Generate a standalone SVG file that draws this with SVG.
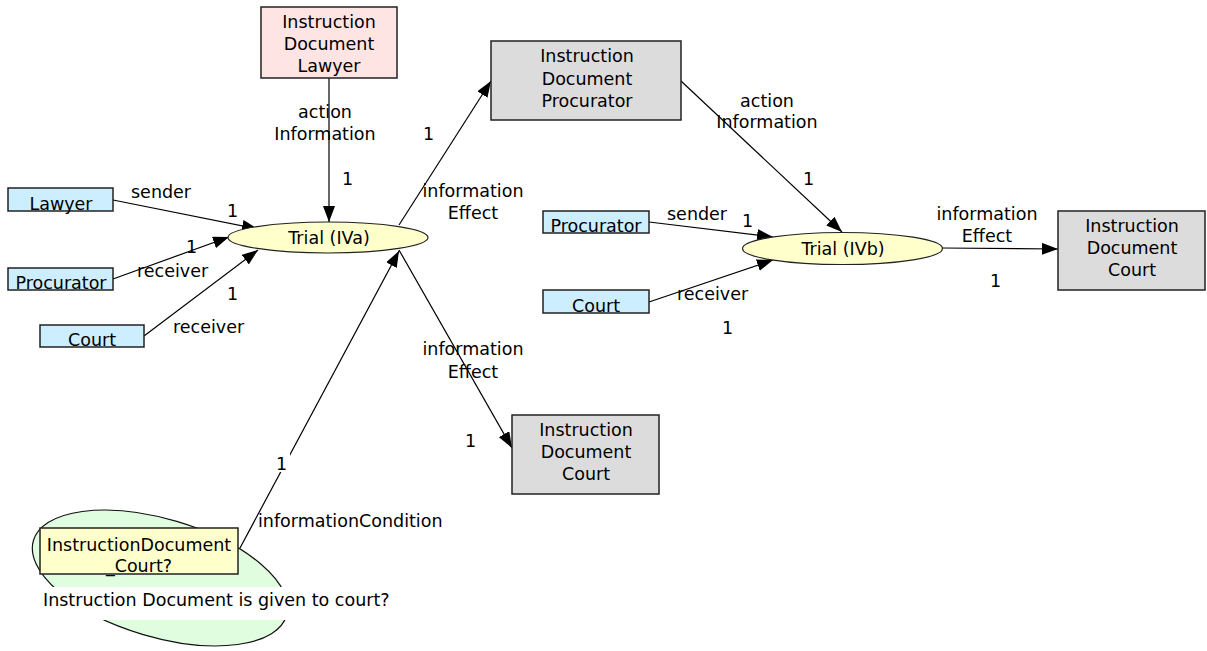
<svg xmlns="http://www.w3.org/2000/svg" width="1207" height="651" viewBox="0 0 1207 651">
  <style>
    text { font-family: "DejaVu Sans", Verdana, sans-serif; font-size: 17.5px; fill: #000; }
    .c { text-anchor: middle; }
    .doc { fill: #dcdcdc; stroke: #222; stroke-width: 1.5; }
    .docp { fill: #ffe4e4; stroke: #222; stroke-width: 1.5; }
    .role { fill: #cdeefe; stroke: #222; stroke-width: 1.5; }
    .act { fill: #ffffcc; stroke: #222; stroke-width: 1.2; }
    .cond { fill: #ffffcc; stroke: #222; stroke-width: 1.5; }
    .cloud { fill: #e0fde0; stroke: #111; stroke-width: 1.2; }
    .edge { stroke: #000; stroke-width: 1.2; fill: none; marker-end: url(#arrow); }
  </style>
  <defs>
    <marker id="arrow" viewBox="0 0 16 12" refX="16" refY="6" markerWidth="16" markerHeight="12" markerUnits="userSpaceOnUse" orient="auto">
      <path d="M0,0 L16,6 L0,12 Z" fill="#000"/>
    </marker>
  </defs>
  <rect width="1207" height="651" fill="#fff"/>

  <!-- condition note (drawn first so everything else sits on top) -->
  <g id="note">
    <ellipse class="cloud" cx="160" cy="578" rx="132" ry="59" transform="rotate(16.5 160 578)"/>
  </g>

  <!-- connectors -->
  <g id="connectors">
    <line class="edge" x1="113" y1="200" x2="258" y2="229"/>
    <line class="edge" x1="113" y1="279" x2="229" y2="237"/>
    <line class="edge" x1="144" y1="336" x2="258" y2="250"/>
    <line class="edge" x1="329" y1="78" x2="329" y2="222"/>
    <line class="edge" x1="399" y1="225" x2="491" y2="81"/>
    <line class="edge" x1="399" y1="250" x2="512" y2="448"/>
    <line class="edge" x1="240" y1="548" x2="399" y2="251"/>
    <line class="edge" x1="681" y1="81" x2="842" y2="232"/>
    <line class="edge" x1="649" y1="222" x2="773" y2="237"/>
    <line class="edge" x1="649" y1="302" x2="773" y2="260"/>
    <line class="edge" x1="942" y1="248" x2="1058" y2="249"/>
  </g>

  <!-- activities -->
  <g id="trial-iva">
    <ellipse class="act" cx="328" cy="237.5" rx="100" ry="15.5"/>
    <text class="c" x="329" y="244">Trial (IVa)</text>
  </g>
  <g id="trial-ivb">
    <ellipse class="act" cx="842.5" cy="248.5" rx="100" ry="16"/>
    <text class="c" x="843" y="255">Trial (IVb)</text>
  </g>

  <!-- documents -->
  <g id="doc-lawyer">
    <rect class="docp" x="261" y="7" width="136" height="71"/>
    <text class="c" x="329" y="28">Instruction</text>
    <text class="c" x="329" y="50">Document</text>
    <text class="c" x="329" y="72">Lawyer</text>
  </g>
  <g id="doc-procurator">
    <rect class="doc" x="491" y="41" width="190" height="79"/>
    <text class="c" x="587" y="62">Instruction</text>
    <text class="c" x="587" y="85">Document</text>
    <text class="c" x="587" y="107">Procurator</text>
  </g>
  <g id="doc-court-a">
    <rect class="doc" x="512" y="415" width="147" height="79"/>
    <text class="c" x="586" y="436">Instruction</text>
    <text class="c" x="586" y="458">Document</text>
    <text class="c" x="586" y="480">Court</text>
  </g>
  <g id="doc-court-b">
    <rect class="doc" x="1058" y="211" width="147" height="79"/>
    <text class="c" x="1132" y="232">Instruction</text>
    <text class="c" x="1132" y="254">Document</text>
    <text class="c" x="1132" y="276">Court</text>
  </g>

  <!-- roles -->
  <g id="role-lawyer">
    <rect class="role" x="8" y="188" width="105" height="23"/>
    <text class="c" x="61" y="210">Lawyer</text>
  </g>
  <g id="role-procurator-a">
    <rect class="role" x="8" y="268" width="105" height="22"/>
    <text class="c" x="61" y="289">Procurator</text>
  </g>
  <g id="role-court-a">
    <rect class="role" x="40" y="325" width="104" height="22"/>
    <text class="c" x="92" y="346">Court</text>
  </g>
  <g id="role-procurator-b">
    <rect class="role" x="543" y="211" width="106" height="22"/>
    <text class="c" x="596" y="232">Procurator</text>
  </g>
  <g id="role-court-b">
    <rect class="role" x="543" y="290" width="106" height="23"/>
    <text class="c" x="596" y="312">Court</text>
  </g>

  <!-- condition -->
  <g id="condition">
    <rect class="cond" x="40" y="528" width="198" height="46"/>
    <text class="c" x="139" y="551">InstructionDocument</text>
    <text class="c" x="139" y="572">_Court?</text>
  </g>
  <g id="note-label">
    <rect x="36" y="587" width="362" height="33" fill="#fff"/>
    <text x="43" y="606">Instruction Document is given to court?</text>
  </g>

  <!-- connector labels -->
  <g id="labels">
    <text x="131" y="198">sender</text>
    <text x="227" y="217">1</text>
    <text x="186" y="253">1</text>
    <text x="137" y="277">receiver</text>
    <text x="227" y="300">1</text>
    <text x="173" y="333">receiver</text>
    <text class="c" x="325" y="118">action</text>
    <text class="c" x="325" y="140">Information</text>
    <text x="342" y="185">1</text>
    <text x="423" y="140">1</text>
    <text class="c" x="473" y="197">information</text>
    <text class="c" x="473" y="219">Effect</text>
    <text class="c" x="473" y="355">information</text>
    <text class="c" x="473" y="378">Effect</text>
    <text x="465" y="447">1</text>
    <rect x="274" y="452" width="16" height="20" fill="#fff"/>
    <text x="276" y="470">1</text>
    <text x="258" y="527">informationCondition</text>
    <text class="c" x="767" y="107">action</text>
    <text class="c" x="767" y="128">Information</text>
    <text x="803" y="185">1</text>
    <text x="667" y="220">sender</text>
    <text x="742" y="227">1</text>
    <text x="677" y="300">receiver</text>
    <text x="722" y="334">1</text>
    <text class="c" x="987" y="220">information</text>
    <text class="c" x="987" y="242">Effect</text>
    <text x="990" y="287">1</text>
  </g>
</svg>
